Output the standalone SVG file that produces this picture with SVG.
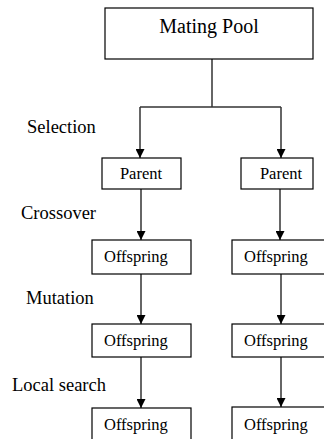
<svg xmlns="http://www.w3.org/2000/svg" width="324" height="439" viewBox="0 0 324 439" font-family="'Liberation Serif', 'DejaVu Serif', serif">
<style>
.box{fill:#fff;stroke:#000;stroke-width:1.2}
text{font-family:'Liberation Serif','DejaVu Serif',serif;fill:#000}
.lbl{font-size:18.5px}
.nt{font-size:16.5px}
.ln{stroke:#333;stroke-width:1.5;fill:none}
</style>
<defs>
<marker id="ah" markerWidth="9" markerHeight="9" refX="9" refY="4.5" orient="auto" markerUnits="userSpaceOnUse">
<path d="M0,0 L9,4.5 L0,9 Z" fill="#000"/>
</marker>
</defs>
<rect width="324" height="439" fill="#fff"/>
<g id="connectors">
<path class="ln" d="M212,59 V107"/>
<path class="ln" d="M140,107 H281"/>
<path class="ln" d="M140,107 V158" marker-end="url(#ah)"/>
<path class="ln" d="M281,107 V158" marker-end="url(#ah)"/>
<path class="ln" d="M141,189 V240" marker-end="url(#ah)"/>
<path class="ln" d="M280,189 V240" marker-end="url(#ah)"/>
<path class="ln" d="M141,274 V324" marker-end="url(#ah)"/>
<path class="ln" d="M281,274 V324" marker-end="url(#ah)"/>
<path class="ln" d="M141,357 V408" marker-end="url(#ah)"/>
<path class="ln" d="M281,357 V407" marker-end="url(#ah)"/>
</g>
<g id="labels">
<text class="lbl" x="27" y="133" font-family="Liberation Serif, serif">Selection</text>
<text class="lbl" x="21" y="219" font-family="Liberation Serif, serif">Crossover</text>
<text class="lbl" x="26" y="304" font-family="Liberation Serif, serif">Mutation</text>
<text class="lbl" x="12" y="391" font-family="Liberation Serif, serif">Local search</text>
</g>
<g id="mating-pool">
<rect class="box" x="105" y="8" width="208" height="51"/>
<text x="209" y="33" font-size="20" text-anchor="middle">Mating Pool</text>
</g>
<g id="parent-left">
<rect class="box" x="102" y="158" width="79" height="31"/>
<text class="nt" x="141" y="179" text-anchor="middle">Parent</text>
</g>
<g id="parent-right">
<rect class="box" x="241" y="158" width="72" height="31"/>
<text class="nt" x="281" y="179" text-anchor="middle">Parent</text>
</g>
<g id="offspring-cross-left">
<rect class="box" x="92" y="240" width="99" height="34"/>
<text class="nt" x="104" y="262">Offspring</text>
</g>
<g id="offspring-cross-right">
<rect class="box" x="232" y="240" width="95" height="34"/>
<text class="nt" x="244" y="262">Offspring</text>
</g>
<g id="offspring-mut-left">
<rect class="box" x="92" y="324" width="99" height="33"/>
<text class="nt" x="104" y="346">Offspring</text>
</g>
<g id="offspring-mut-right">
<rect class="box" x="232" y="324" width="95" height="33"/>
<text class="nt" x="244" y="346">Offspring</text>
</g>
<g id="offspring-ls-left">
<rect class="box" x="92" y="408" width="99" height="34"/>
<text class="nt" x="104" y="430">Offspring</text>
</g>
<g id="offspring-ls-right">
<rect class="box" x="232" y="407" width="95" height="35"/>
<text class="nt" x="244" y="430">Offspring</text>
</g>
</svg>
